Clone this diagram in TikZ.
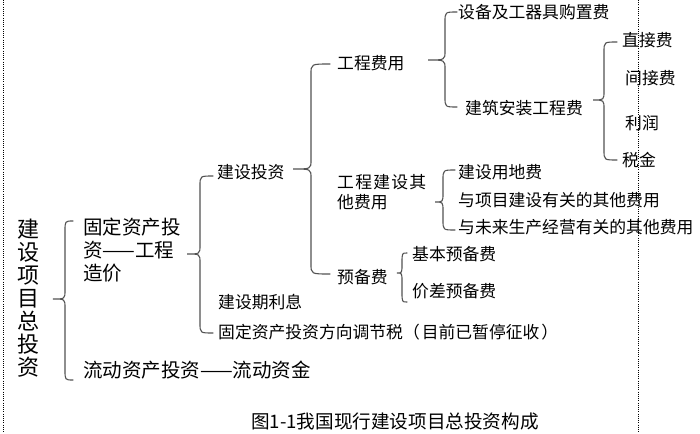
\documentclass[tikz,border=0pt]{standalone}
\usepackage{fontspec}
\setmainfont[Kerning=Off]{Noto Sans CJK SC}
\usetikzlibrary{calc}
\newcommand\drawbrace[4]{% #1 tip, #2 line-x coordinate, #3 top end, #4 bottom end
  \draw[brc] (#3) .. controls (#3 -| #2) .. ($(#3 -| #2)+(0,10)$)
    -- ($(#1 -| #2)+(0,-9)$) .. controls (#1 -| #2) .. (#1)
    .. controls (#1 -| #2) .. ($(#1 -| #2)+(0,9)$)
    -- ($(#4 -| #2)+(0,-10)$) .. controls (#4 -| #2) .. (#4);
}
\begin{document}
\begin{tikzpicture}[x=1pt,y=-1pt,
  txt/.style={anchor=west,inner sep=0pt,text=black,font=\fontsize{16.8}{20}\selectfont},
  big/.style={txt,align=left,font=\fontsize{19.5}{23}\selectfont},
  brc/.style={draw=black!68,line width=1.1pt,line cap=round},
  margin/.style={draw=black,line width=0.9pt,dash pattern=on 1pt off 1.2pt}]
\useasboundingbox (0,0) rectangle (700,433);
% page margin marks
\draw[margin] (3,0) -- (3,433);
\draw[margin] (638,0) -- (638,433);
% nodes
\node[inner sep=0pt,align=center,font=\fontsize{22}{22.9}\selectfont] (title) at (28,298) {建\\设\\项\\目\\总\\投\\资};
\node[big] (fixed) at (83,250) {固定资产投\\资——工程\\造价};
\node[big] (flow) at (83,370) {流动资产投资——流动资金};
\node[txt] (jstz) at (217,172) {建设投资};
\node[txt] (lixi) at (218,302) {建设期利息};
\node[txt] (shui) at (218,332) {固定资产投资方向调节税（\hspace{2pt}目前已暂停征收\hspace{2pt}）};
\node[txt] (gcfy) at (337,63) {工程费用};
\node[txt,align=left] (qita) at (337,192) {\makebox[89pt][l]{工\hfill 程\hfill 建\hfill 设\hfill 其}\\他费用};
\node[txt] (ybf) at (337,277) {预备费};
\node[txt] (sbgq) at (458,12) {设备及工器具购置费};
\node[txt] (jzaz) at (465,108) {建筑安装工程费};
\node[txt] (zjf) at (622,40) {直接费};
\node[txt] (jjf) at (625,78) {间接费};
\node[txt] (lr) at (625,123) {利润};
\node[txt] (sj) at (622,160) {税金};
\node[txt] (ydf) at (458,172) {建设用地费};
\node[txt] (xmjs) at (458,200) {与项目建设有关的其他费用};
\node[txt] (wlsc) at (458,227) {与未来生产经营有关的其他费用};
\node[txt] (jbyb) at (412,254) {基本预备费};
\node[txt] (jcyb) at (412,291) {价差预备费};
\node[inner sep=0pt,font=\fontsize{18.6}{20}\selectfont] (caption) at (395,421) {图1-1我国现行建设项目总投资构成};
% brace coordinates
\coordinate (t1) at (53,299);  \coordinate (v1) at (65,0);  \coordinate (a1) at (73,221);  \coordinate (z1) at (73,380);
\coordinate (t2) at (187,254); \coordinate (v2) at (200,0); \coordinate (a2) at (213,176); \coordinate (z2) at (213,333);
\coordinate (t3) at (293,169); \coordinate (v3) at (311,0); \coordinate (a3) at (330,64);  \coordinate (z3) at (330,274);
\coordinate (t4) at (428,60);  \coordinate (v4) at (445,0); \coordinate (a4) at (457,12);  \coordinate (z4) at (457,107);
\coordinate (t5) at (593,100); \coordinate (v5) at (604,0); \coordinate (a5) at (617,42);  \coordinate (z5) at (617,160);
\coordinate (t6) at (435,202); \coordinate (v6) at (443,0); \coordinate (a6) at (455,170); \coordinate (z6) at (455,230);
\coordinate (t7) at (397,273); \coordinate (v7) at (402,0); \coordinate (a7) at (407,253); \coordinate (z7) at (407,302);
\drawbrace{t1}{v1}{a1}{z1}
\drawbrace{t2}{v2}{a2}{z2}
\drawbrace{t3}{v3}{a3}{z3}
\drawbrace{t4}{v4}{a4}{z4}
\drawbrace{t5}{v5}{a5}{z5}
\drawbrace{t6}{v6}{a6}{z6}
\drawbrace{t7}{v7}{a7}{z7}
\end{tikzpicture}
\end{document}
